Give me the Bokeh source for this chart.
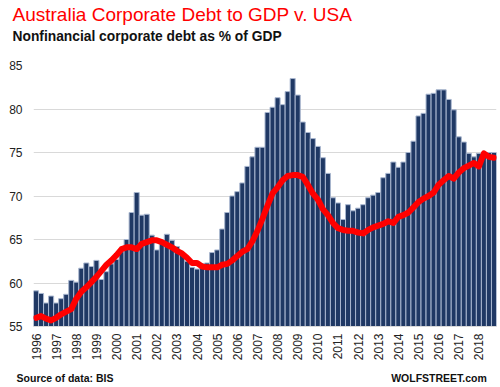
import math
from bokeh.plotting import figure
from bokeh.models import FixedTicker, Range1d, LinearAxis, Title
from bokeh.embed import file_html
from bokeh.resources import INLINE

years = list(range(1996, 2019))
quarters = [f"{y}Q{q}" for y in years for q in range(1, 5)]
year_labels = [str(y) for y in years]
y_ticks = [55, 60, 65, 70, 75, 80, 85]
footer_texts = ["Source of data: BIS", "WOLFSTREET.com"]

# Australia nonfinancial corporate debt, % of GDP (bars)
australia = [
    59.1, 58.8, 57.7, 58.5, 57.7, 58.2, 58.7, 60.3,
    60.1, 61.7, 62.3, 61.9, 62.6, 60.4, 61.3, 62.2,
    62.7, 63.6, 65.0, 68.1, 70.4, 67.8, 67.9, 65.5,
    63.8, 64.6, 65.6, 64.9, 64.2, 63.5, 62.5, 61.8,
    61.6, 62.2, 62.3, 63.5, 63.8, 66.2, 68.1, 70.0,
    70.5, 71.5, 73.4, 74.5, 75.6, 75.6, 79.6, 80.2,
    81.3, 80.5, 82.0, 83.5, 81.6, 78.5, 77.3, 76.6,
    75.7, 74.4, 72.6, 69.8, 69.2, 67.3, 69.0, 68.3,
    68.6, 69.0, 69.8, 70.1, 70.4, 72.1, 72.6, 73.9,
    73.3, 73.9, 75.0, 76.3, 79.2, 79.5, 81.7, 81.8,
    82.2, 82.2, 81.1, 79.9, 76.8, 76.2, 74.9, 74.5,
    74.9, 75.0, 75.0, 75.0,
]

# USA nonfinancial corporate debt, % of GDP (red line)
usa = [
    56.0, 56.2, 55.9, 55.7, 56.0, 56.4, 56.7, 57.0,
    58.2, 59.0, 59.5, 60.1, 60.7, 61.4, 62.1, 62.6,
    63.2, 63.9, 64.1, 64.1, 63.9, 64.5, 64.7, 64.9,
    64.9, 64.7, 64.4, 64.1, 63.7, 63.4, 62.9, 62.3,
    62.3, 61.9, 61.8, 61.8, 61.8, 62.1, 62.2, 62.6,
    63.1, 63.6, 63.9, 64.8, 66.0, 67.4, 68.9, 70.3,
    71.0, 71.8, 72.3, 72.4, 72.4, 72.2, 71.3, 70.3,
    69.6, 68.5, 67.8, 66.9, 66.3, 66.1, 66.0, 66.0,
    65.8, 65.7, 66.1, 66.4, 66.6, 66.8, 67.1, 66.9,
    67.6, 67.8, 68.1, 68.7, 69.3, 69.7, 70.0, 70.4,
    71.3, 71.8, 72.3, 72.0, 72.7, 73.2, 73.5, 73.8,
    73.4, 74.9, 74.5, 74.4,
]

xs = list(range(len(quarters)))
font = "Liberation Sans"

p = figure(width=500, height=387, output_backend="svg", toolbar_location=None,
           title=None,
           x_range=Range1d(-0.5, len(quarters) - 0.5), y_range=Range1d(55, 85),
           min_border_left=33, min_border_right=4, min_border_top=64,
           min_border_bottom=61, background_fill_color="white",
           border_fill_color="white")
p.outline_line_color = None

p.vbar(x=xs, top=australia, bottom=55, width=1.0,
       fill_color="#1f3864", line_color="#a8b6cf", line_width=1)
p.line(xs, usa, line_color="#ff0000", line_width=6,
       line_join="round", line_cap="round")

# titles (first added sits closest to the plot); a blank spacer lifts them
p.add_layout(Title(text=" ", text_font_size="1px", standoff=19), "above")
p.add_layout(Title(text="Nonfinancial corporate debt as % of GDP", align="left",
                   offset=-21, standoff=0, text_font=font, text_font_size="13.8px",
                   text_font_style="bold", text_color="#111111"), "above")
p.add_layout(Title(text="Australia  Corporate Debt to GDP v. USA", align="left",
                   offset=-21, standoff=3, text_font=font, text_font_size="19px",
                   text_font_style="normal", text_color="#ff0000"), "above")

p.xaxis.ticker = FixedTicker(ticks=xs[::4])
p.xaxis.major_label_overrides = {xs[i * 4]: year_labels[i] for i in range(len(years))}
p.xaxis.major_label_orientation = math.pi / 2
p.xaxis.major_tick_line_color = None
p.xaxis.minor_tick_line_color = None
p.xaxis.major_tick_out = 0
p.xaxis.major_tick_in = 0
p.xaxis.axis_line_color = "#d9d9d9"
p.xaxis.major_label_standoff = 7
p.xaxis.major_label_text_font_size = "12px"
p.xaxis.major_label_text_font = font
p.xaxis.major_label_text_color = "#222222"

p.yaxis.ticker = FixedTicker(ticks=y_ticks)
p.yaxis.axis_line_color = None
p.yaxis.major_tick_line_color = None
p.yaxis.minor_tick_line_color = None
p.yaxis.major_tick_out = 0
p.yaxis.major_tick_in = 0
p.yaxis.major_label_standoff = 11
p.yaxis.major_label_text_font_size = "12px"
p.yaxis.major_label_text_font = font
p.yaxis.major_label_text_color = "#222222"

p.xgrid.visible = False
p.ygrid.grid_line_color = "#d9d9d9"
p.ygrid.grid_line_width = 1

# footer line: an unadorned axis below the chart carries the two notes
p.extra_x_ranges = {"foot": Range1d(0, 463)}
foot = LinearAxis(x_range_name="foot",
                  ticker=FixedTicker(ticks=[31.5, 405.5]),
                  major_label_overrides={31.5: footer_texts[0], 405.5: footer_texts[1]},
                  axis_line_color=None, major_tick_line_color=None,
                  minor_tick_line_color=None, major_tick_out=0, major_tick_in=0,
                  major_label_standoff=8, major_label_text_font=font,
                  major_label_text_font_size="10.5px",
                  major_label_text_font_style="bold",
                  major_label_text_color="#111111")
p.add_layout(foot, "below")

open("out.html", "w").write(file_html(p, INLINE))
